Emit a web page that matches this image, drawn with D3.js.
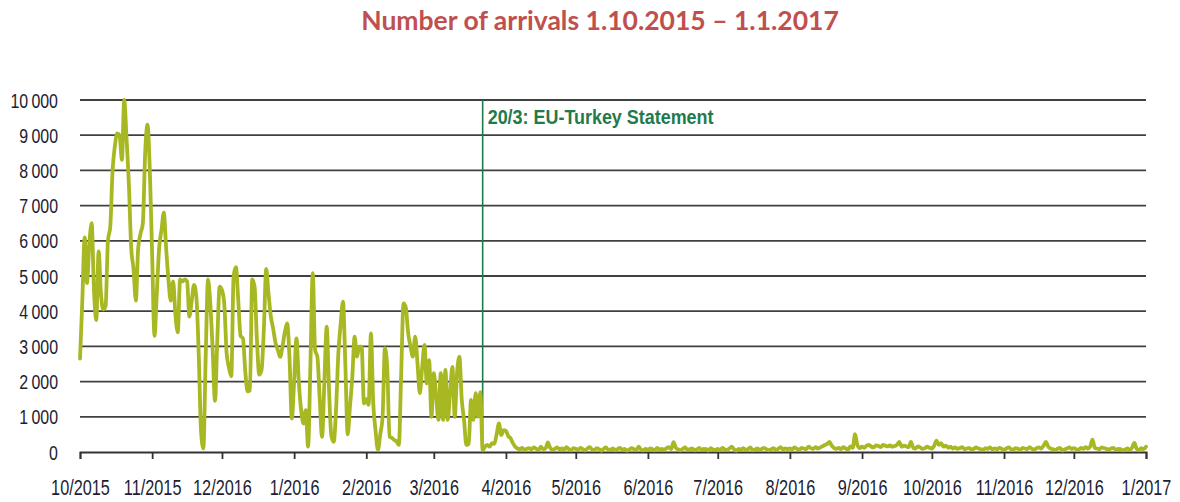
<!DOCTYPE html>
<html>
<head>
<meta charset="utf-8">
<script src="https://cdn.jsdelivr.net/npm/d3@7"></script>
<style>
  html, body { margin: 0; padding: 0; background: #fff; }
  svg { display: block; }
</style>
</head>
<body>
<svg id="chart" width="1180" height="502"></svg>
<script>
// ---- DATA (daily arrivals) ----
const titleText = "Number of arrivals 1.10.2015 \u2013 1.1.2017";
const startDate = "2015-10-01";
const endDate = "2017-01-01";
const eventDate = "2016-03-22";
const eventLabel = "20/3: EU-Turkey Statement";

const oct2015 = [2650, 4300, 6100, 4800, 5900, 6500, 4600, 3750, 5700, 4500, 4050, 4150, 6000, 6400, 8000, 8700, 9050, 9000, 8300, 10000, 8900, 7600, 5800, 5200, 4300, 5800, 6200, 6500, 8500, 9300, 8000];
const nov2015 = [5600, 3300, 4500, 5800, 6300, 6800, 5800, 4900, 4300, 4850, 3900, 3400, 4900, 4850, 4900, 4850, 3850, 4300, 4750, 4400, 2800, 600, 100, 2700, 4900, 4200, 2900, 1450, 3200, 4700];
const dec2015 = [4600, 4200, 2800, 2400, 2150, 5000, 5250, 4300, 3300, 3230, 2300, 1720, 1750, 4900, 4700, 3200, 2200, 2330, 3500, 5200, 4500, 3850, 3500, 3100, 2900, 2700, 3000, 3400, 3650, 2700, 950];
const jan2016 = [2000, 3230, 2000, 1200, 810, 1190, 150, 2500, 5080, 2900, 2700, 1500, 430, 2000, 3560, 1760, 450, 290, 1190, 2800, 3650, 4270, 2500, 500, 1300, 2140, 3280, 2710, 2990, 2990, 1380];
const feb2016 = [1500, 1340, 3370, 1380, 600, 60, 500, 1000, 2950, 2400, 430, 400, 340, 300, 200, 2240, 4220, 4100, 3370, 3000, 2710, 3280, 2520, 1670, 2400, 3040, 1950, 2610, 1000];
const mar2016 = [2240, 1600, 910, 2240, 910, 2330, 910, 1700, 2420, 1000, 2240, 2710, 1500, 910, 200, 230, 1480, 910, 1670, 1000, 1700, 50, 150, 200, 150, 250, 230, 500, 810, 480, 620];
const apr2016 = [600, 450, 390, 250, 150, 100, 80, 120, 60, 90, 110, 70, 130, 90, 60, 150, 80, 100, 270, 120, 60, 90, 130, 70, 100, 60, 140, 80, 50, 110];
const may2016 = [90, 60, 120, 80, 50, 100, 140, 70, 60, 110, 80, 40, 90, 130, 60, 70, 100, 50, 80, 120, 60, 90, 40, 70, 110, 80, 60, 150, 70, 50, 90];
const jun2016 = [60, 100, 80, 50, 120, 70, 90, 60, 110, 140, 80, 280, 120, 70, 50, 90, 130, 60, 80, 100, 50, 70, 120, 60, 90, 80, 40, 110, 70, 60];
const jul2016 = [90, 50, 120, 70, 60, 100, 150, 80, 40, 90, 70, 110, 60, 80, 130, 50, 70, 100, 60, 90, 120, 70, 50, 80, 110, 60, 90, 140, 70, 100, 80];
const aug2016 = [100, 70, 130, 90, 60, 120, 100, 80, 150, 110, 90, 140, 100, 130, 160, 200, 230, 290, 180, 110, 90, 120, 80, 140, 100, 70, 160, 120, 510, 200, 110];
const sep2016 = [150, 120, 180, 200, 150, 130, 190, 170, 140, 200, 180, 160, 190, 150, 170, 200, 290, 150, 180, 160, 140, 290, 120, 100, 160, 130, 90, 110, 150, 120];
const oct2016 = [100, 180, 320, 200, 250, 150, 180, 120, 150, 100, 130, 90, 110, 140, 80, 100, 120, 70, 90, 130, 100, 80, 60, 110, 90, 130, 70, 100, 80, 120, 90];
const nov2016 = [60, 100, 130, 80, 70, 110, 90, 60, 120, 100, 80, 140, 90, 70, 110, 130, 100, 180, 290, 150, 100, 80, 60, 90, 120, 40, 70, 100, 130, 90];
const dec2016 = [110, 80, 60, 120, 90, 140, 100, 150, 350, 120, 100, 80, 130, 110, 90, 70, 100, 120, 60, 90, 80, 50, 70, 100, 60, 120, 260, 90, 50, 110, 80];
const jan2017 = [150];

const yTicks = [0, 1000, 2000, 3000, 4000, 5000, 6000, 7000, 8000, 9000, 10000];
const xTickDates = ["2015-10-01", "2015-11-01", "2015-12-01", "2016-01-01", "2016-02-01", "2016-03-01", "2016-04-01", "2016-05-01", "2016-06-01", "2016-07-01", "2016-08-01", "2016-09-01", "2016-10-01", "2016-11-01", "2016-12-01", "2017-01-01"];
const xTickLabels = ["10/2015", "11/2015", "12/2016", "1/2016", "2/2016", "3/2016", "4/2016", "5/2016", "6/2016", "7/2016", "8/2016", "9/2016", "10/2016", "11/2016", "12/2016", "1/2017"];

// ---- BUILD ----
const parse = d3.utcParse("%Y-%m-%d");
const allValues = [].concat(oct2015, nov2015, dec2015, jan2016, feb2016, mar2016, apr2016, may2016, jun2016, jul2016, aug2016, sep2016, oct2016, nov2016, dec2016, jan2017);
const t0 = parse(startDate);
const series = allValues.map((v, i) => ({ date: d3.utcDay.offset(t0, i), value: v }));

const svg = d3.select("#chart");
const W = 1180, H = 502;
const margin = { left: 80, right: 34, top: 100, bottom: 50 };

const x = d3.scaleUtc()
  .domain([parse(startDate), parse(endDate)])
  .range([margin.left, W - margin.right]);
const y = d3.scaleLinear()
  .domain([0, 10000])
  .range([H - margin.bottom, margin.top]);

const labelFont = "'Liberation Sans', Arial, sans-serif";
const textColor = "#1d1d33";
const green = "#1f7a4c";

// title
svg.append("text")
  .attr("x", 600).attr("y", 30)
  .attr("text-anchor", "middle")
  .attr("font-family", "Lato, 'Open Sans', sans-serif")
  .attr("font-weight", "bold")
  .attr("font-size", 26.5)
  .attr("fill", "#c0504d")
  .text(titleText);

// gridlines
svg.append("g")
  .selectAll("line")
  .data(yTicks.filter(d => d > 0))
  .join("line")
  .attr("x1", x.range()[0]).attr("x2", x.range()[1])
  .attr("y1", d => y(d)).attr("y2", d => y(d))
  .attr("stroke", "#404040")
  .attr("stroke-width", 1.8);

// y axis labels (horizontally condensed like the original face)
const fmt = v => d3.format(",")(v).replace(/,/g, "\u2009");
svg.append("g")
  .selectAll("text")
  .data(yTicks)
  .join("text")
  .attr("transform", d => `translate(58,${y(d)}) scale(0.76,1)`)
  .attr("dy", "0.36em")
  .attr("text-anchor", "end")
  .attr("font-family", labelFont)
  .attr("font-size", 21)
  .attr("fill", textColor)
  .text(fmt);

// x axis
const xTicks = xTickDates.map(parse);
const xAxis = d3.axisBottom(x)
  .tickValues(xTicks)
  .tickSize(7)
  .tickPadding(20)
  .tickFormat((d, i) => xTickLabels[i]);
const gx = svg.append("g")
  .attr("transform", `translate(0,${y(0)})`)
  .call(xAxis);
gx.select(".domain").attr("stroke", "#333").attr("stroke-width", 1.8);
gx.selectAll(".tick line").attr("stroke", "#333").attr("stroke-width", 1.8);
gx.selectAll(".tick text")
  .attr("font-family", labelFont)
  .attr("font-size", 22)
  .attr("fill", textColor)
  .attr("transform", "scale(0.74,1)");

// event line
const ex = x(parse(eventDate));
svg.append("line")
  .attr("x1", ex).attr("x2", ex)
  .attr("y1", y(10000)).attr("y2", y(0))
  .attr("stroke", green)
  .attr("stroke-width", 1.6);
const evText = svg.append("text")
  .attr("font-family", labelFont)
  .attr("font-weight", "bold")
  .attr("font-size", 21)
  .attr("fill", green)
  .text(eventLabel);
const evScale = 226 / evText.node().getComputedTextLength();
evText.attr("transform", `translate(${ex + 5},${y(10000) + 24}) scale(${evScale},1)`);

// data line
const line = d3.line()
  .x(d => x(d.date))
  .y(d => y(d.value))
  .curve(d3.curveMonotoneX);
svg.append("path")
  .datum(series)
  .attr("d", line)
  .attr("fill", "none")
  .attr("stroke", "#a8b823")
  .attr("stroke-width", 3.8)
  .attr("stroke-linejoin", "round")
  .attr("stroke-linecap", "round");
</script>
</body>
</html>
